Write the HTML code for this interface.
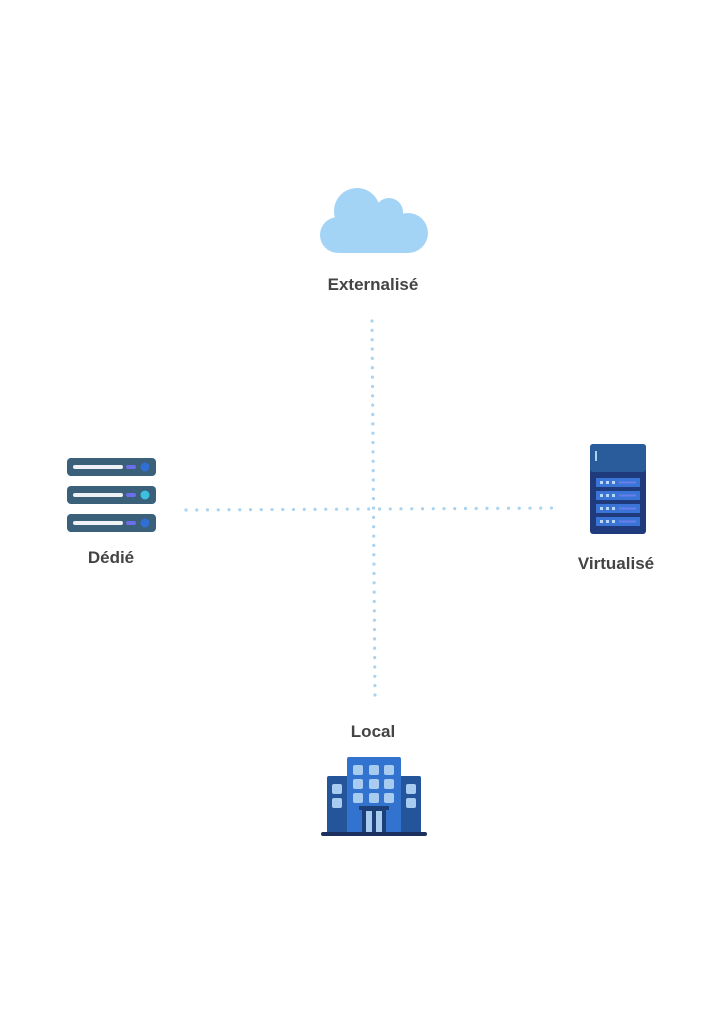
<!DOCTYPE html>
<html><head><meta charset="utf-8"><style>
html,body{margin:0;padding:0;background:#fff;}
svg{display:block;}
text{font-family:"Liberation Sans",sans-serif;font-weight:bold;fill:#444;font-size:17px;text-anchor:middle;}
</style></head><body>
<svg width="724" height="1024" viewBox="0 0 724 1024" xmlns="http://www.w3.org/2000/svg">
<rect width="724" height="1024" fill="#fff"/>
<line x1="372" y1="321" x2="375" y2="695" stroke="#a9d3f0" stroke-width="3.2" stroke-linecap="round" stroke-dasharray="0 9.35"/>
<line x1="186" y1="510" x2="562" y2="508" stroke="#a9d3f0" stroke-width="3.2" stroke-linecap="round" stroke-dasharray="0 10.75"/>
<g fill="#a4d4f5">
<circle cx="357" cy="211" r="23"/>
<circle cx="389" cy="212" r="14"/>
<circle cx="408" cy="233" r="20"/>
<circle cx="338" cy="235" r="18"/>
<rect x="338" y="222" width="70" height="31"/>
<rect x="357" y="212" width="34" height="14"/>
</g>
<text x="373" y="290">Externalisé</text>
<g>
<rect x="67" y="458" width="89" height="18" rx="4" fill="#3b6079"/>
<rect x="73" y="465" width="50" height="4" rx="2" fill="#eef2f6"/>
<rect x="126" y="465" width="10" height="4" rx="2" fill="#6b6ee8"/>
<circle cx="145" cy="467" r="4.5" fill="#2f6fd6"/>
<rect x="67" y="486" width="89" height="18" rx="4" fill="#3b6079"/>
<rect x="73" y="493" width="50" height="4" rx="2" fill="#eef2f6"/>
<rect x="126" y="493" width="10" height="4" rx="2" fill="#6b6ee8"/>
<circle cx="145" cy="495" r="4.5" fill="#3cc0e0"/>
<rect x="67" y="514" width="89" height="18" rx="4" fill="#3b6079"/>
<rect x="73" y="521" width="50" height="4" rx="2" fill="#eef2f6"/>
<rect x="126" y="521" width="10" height="4" rx="2" fill="#6b6ee8"/>
<circle cx="145" cy="523" r="4.5" fill="#2f6fd6"/>
</g>
<text x="111" y="563">Dédié</text>
<g>
<rect x="590" y="444" width="56" height="90" rx="3" fill="#1f3b7c"/>
<rect x="590" y="444" width="56" height="28" rx="3" fill="#2a5b9a"/>
<rect x="595" y="451" width="2" height="10" fill="#a9d3f0"/>
<rect x="596" y="478" width="44" height="9" fill="#3a74d6"/>
<rect x="596" y="491" width="44" height="9" fill="#3a74d6"/>
<rect x="596" y="504" width="44" height="9" fill="#3a74d6"/>
<rect x="596" y="517" width="44" height="9" fill="#3a74d6"/>
<g fill="#b8d8f5">
<rect x="600" y="481" width="3" height="3"/><rect x="606" y="481" width="3" height="3"/><rect x="612" y="481" width="3" height="3"/><rect x="619" y="481.5" width="17" height="2" fill="#6b7ee8"/>
<rect x="600" y="494" width="3" height="3"/><rect x="606" y="494" width="3" height="3"/><rect x="612" y="494" width="3" height="3"/><rect x="619" y="494.5" width="17" height="2" fill="#6b7ee8"/>
<rect x="600" y="507" width="3" height="3"/><rect x="606" y="507" width="3" height="3"/><rect x="612" y="507" width="3" height="3"/><rect x="619" y="507.5" width="17" height="2" fill="#6b7ee8"/>
<rect x="600" y="520" width="3" height="3"/><rect x="606" y="520" width="3" height="3"/><rect x="612" y="520" width="3" height="3"/><rect x="619" y="520.5" width="17" height="2" fill="#6b7ee8"/>
</g>
</g>
<text x="616" y="569">Virtualisé</text>
<text x="373" y="737">Local</text>
<g>
<rect x="327" y="776" width="22" height="57" rx="2" fill="#24549a"/>
<rect x="399" y="776" width="22" height="57" rx="2" fill="#24549a"/>
<rect x="347" y="757" width="54" height="76" rx="2" fill="#3273d0"/>
<g fill="#a8ccef">
<rect x="332" y="784" width="10" height="10" rx="2"/><rect x="332" y="798" width="10" height="10" rx="2"/>
<rect x="406" y="784" width="10" height="10" rx="2"/><rect x="406" y="798" width="10" height="10" rx="2"/>
<rect x="353" y="765" width="10" height="10" rx="2"/><rect x="369" y="765" width="10" height="10" rx="2"/><rect x="384" y="765" width="10" height="10" rx="2"/>
<rect x="353" y="779" width="10" height="10" rx="2"/><rect x="369" y="779" width="10" height="10" rx="2"/><rect x="384" y="779" width="10" height="10" rx="2"/>
<rect x="353" y="793" width="10" height="10" rx="2"/><rect x="369" y="793" width="10" height="10" rx="2"/><rect x="384" y="793" width="10" height="10" rx="2"/>
</g>
<rect x="359" y="806" width="30" height="4" fill="#1c3f78"/>
<rect x="362" y="810" width="24" height="23" fill="#1c3f78"/>
<rect x="366" y="811" width="6" height="22" fill="#a8ccef"/>
<rect x="376" y="811" width="6" height="22" fill="#a8ccef"/>
<rect x="321" y="832" width="106" height="4" rx="2" fill="#1c3060"/>
</g>
</svg>
</body></html>
